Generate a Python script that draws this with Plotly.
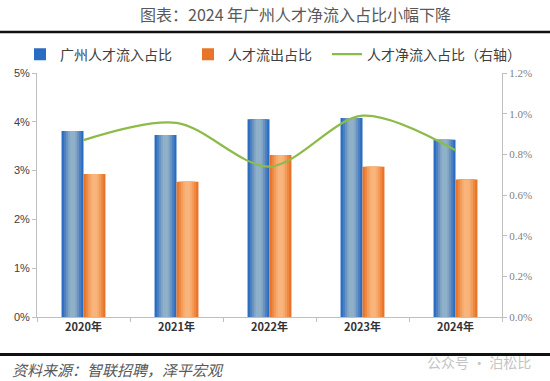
import plotly.graph_objects as go

years = ["2020年", "2021年", "2022年", "2023年", "2024年"]
inflow = [0.0381, 0.0373, 0.0405, 0.0408, 0.0363]   # 广州人才流入占比
outflow = [0.0293, 0.0277, 0.0332, 0.0308, 0.0282]  # 人才流出占比
net = [0.0087, 0.00955, 0.0074, 0.0099, 0.0082]     # 人才净流入占比（右轴）

W, H = 550, 381
L, R, T, B = 37, 502, 72.7, 317.3

def px(x):
    return (x - L) / (R - L)

def py(y):
    return (B - y) / (B - T)

fig = go.Figure()

bw = 0.236
blue_layers = ["#2a6cc2", "#4a80c2", "#6892c2", "#80a3c5", "#8fb0c9"]
orange_layers = ["#e8742a", "#ee8840", "#f39b58", "#f6a96c", "#f8b47b"]
fracs = [1.0, 0.8, 0.6, 0.42, 0.26]

for i, (c, f) in enumerate(zip(blue_layers, fracs)):
    w = bw * f
    fig.add_trace(go.Bar(
        x=years, y=inflow, name="广州人才流入占比",
        width=w, offset=-bw / 2 - w / 2,
        marker=dict(color=c, line=dict(width=0)),
        showlegend=(i == 0), legendgroup="in", legendrank=1, legend="legend",
    ))
for i, (c, f) in enumerate(zip(orange_layers, fracs)):
    w = bw * f
    fig.add_trace(go.Bar(
        x=years, y=outflow, name="人才流出占比",
        width=w, offset=bw / 2 - w / 2,
        marker=dict(color=c, line=dict(width=0)),
        showlegend=(i == 0), legendgroup="out", legendrank=2, legend="legend",
    ))

fig.add_trace(go.Scatter(
    x=years, y=net, name="人才净流入占比（右轴）", yaxis="y2",
    mode="lines", line=dict(color="#8dbb4a", width=2.2, shape="spline", smoothing=0.9),
    legend="legend2",
))

legend_font = dict(family="Noto Sans CJK SC", size=14, color="#404040")
fig.update_layout(
    width=W, height=H,
    margin=dict(l=L, r=W - R, t=T, b=H - B, autoexpand=False),
    paper_bgcolor="white", plot_bgcolor="white",
    barmode="overlay",
    font=dict(family="Noto Sans CJK SC", color="#404040"),
    xaxis=dict(
        type="category", showgrid=False, showline=True, linecolor="#bfbfbf", linewidth=1,
        ticks="outside", tickcolor="#bfbfbf", ticklen=4, tickson="boundaries",
        tickfont=dict(family="Noto Sans CJK SC", size=11, color="#333333", weight="bold"),
        range=[-0.5, 4.5], automargin=False,
    ),
    yaxis=dict(
        range=[0, 0.05], dtick=0.01, tickformat=".0%", showgrid=False,
        showline=True, linecolor="#bfbfbf", linewidth=1, ticks="outside",
        tickcolor="#bfbfbf", ticklen=4, zeroline=False, automargin=False,
        tickfont=dict(family="Liberation Sans", size=11, color="#404040"),
    ),
    yaxis2=dict(
        range=[0, 0.012], dtick=0.002, tickformat=".1%", overlaying="y", side="right",
        showgrid=False, showline=True, linecolor="#bfbfbf", linewidth=1, ticks="outside",
        tickcolor="#bfbfbf", ticklen=4, zeroline=False, automargin=False,
        tickfont=dict(family="Liberation Serif", size=11, color="#7f7f7f"),
    ),
    legend=dict(
        orientation="h", xref="container", x=20 / W, xanchor="left",
        yref="container", y=1 - 54.6 / H, yanchor="middle",
        font=legend_font, itemwidth=30, traceorder="normal",
        entrywidth=123, entrywidthmode="pixels", bgcolor="rgba(0,0,0,0)",
    ),
    legend2=dict(
        orientation="h", xref="container", x=327 / W, xanchor="left",
        yref="container", y=1 - 54.6 / H, yanchor="middle",
        font=legend_font, itemwidth=30, bgcolor="rgba(0,0,0,0)",
    ),
    showlegend=True,
)

fig.add_annotation(
    text="图表：2024 年广州人才净流入占比小幅下降", xref="paper", yref="paper",
    x=px(295), y=py(14), xanchor="center", yanchor="middle", showarrow=False,
    font=dict(family="Noto Sans CJK SC", size=16, color="#595959"),
)
fig.add_annotation(
    text="<i>资料来源：智联招聘，泽平宏观</i>", xref="paper", yref="paper",
    x=px(10), y=py(370), xanchor="left", yanchor="middle", showarrow=False,
    font=dict(family="Noto Sans CJK SC", size=15, color="#595959"),
)
fig.add_annotation(
    text="公众号 · 泊松比", xref="paper", yref="paper",
    x=px(533), y=py(362), xanchor="right", yanchor="middle", showarrow=False,
    font=dict(family="Noto Sans CJK SC", size=14, color="#c4c4c4"),
)

for yy, lw in [(31.7, 2.5), (355, 3)]:
    fig.add_shape(type="line", xref="paper", yref="paper",
                  x0=px(0), x1=px(550), y0=py(yy), y1=py(yy),
                  line=dict(color="#111111", width=lw))

fig.write_html("out.html", config={"displayModeBar": False},
               post_script="document.body.style.margin='0';document.body.style.overflow='hidden';")
